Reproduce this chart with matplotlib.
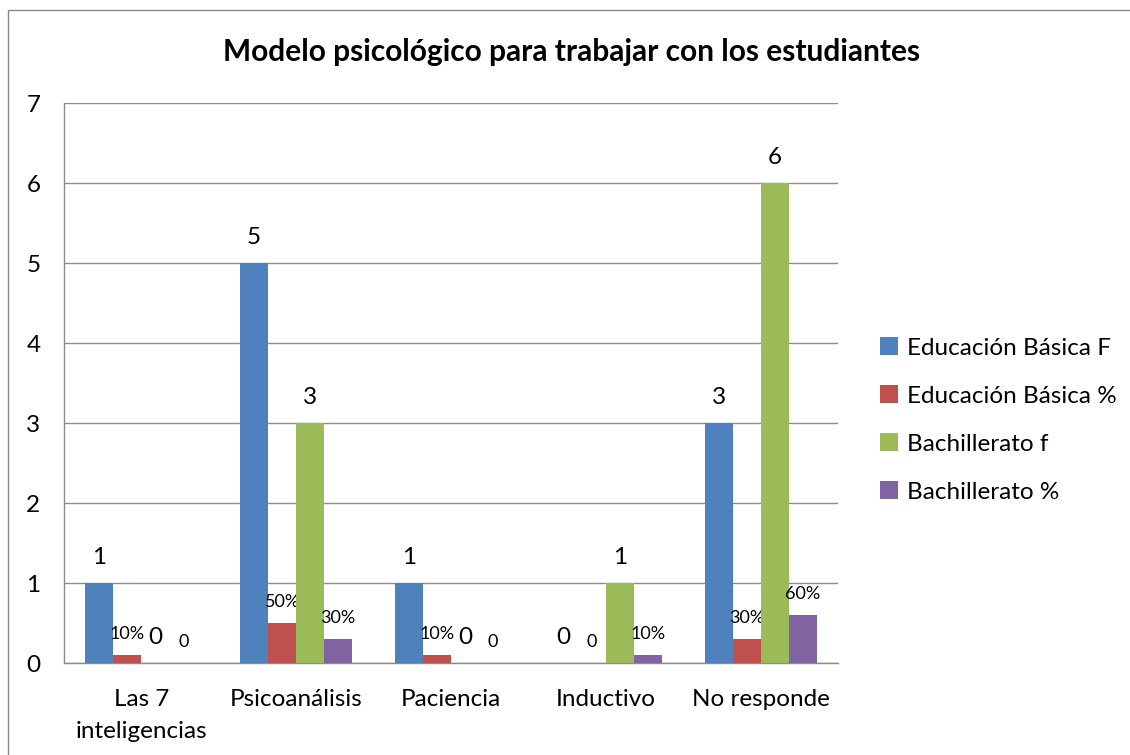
import matplotlib
matplotlib.use("Agg")
import matplotlib.pyplot as plt
import numpy as np
from matplotlib.patches import Rectangle

categories = ["Las 7\ninteligencias", "Psicoanálisis", "Paciencia", "Inductivo", "No responde"]
series_names = ["Educación Básica F", "Educación Básica %", "Bachillerato f", "Bachillerato %"]
eb_f = [1, 5, 1, 0, 3]
eb_pct = [0.1, 0.5, 0.1, 0, 0.3]
bach_f = [0, 3, 0, 1, 6]
bach_pct = [0, 0.3, 0, 0.1, 0.6]
colors = ["#4F81BD", "#C0504D", "#9BBB59", "#8064A2"]
yticks = [0, 1, 2, 3, 4, 5, 6, 7]

plt.rcParams['font.family'] = ['Lato', 'DejaVu Sans']

fig = plt.figure(figsize=(11.3, 7.55), dpi=100)
W, H = 1130, 755
ax = fig.add_axes([64 / W, 1 - 663 / H, (838 - 64) / W, (663 - 103) / H])

# outer chart border
fig.patches.append(Rectangle((8 / W, -0.1), 1.2, 1 - 10 / H + 0.1, transform=fig.transFigure,
                             fill=False, edgecolor="#888888", linewidth=1.0))

x = np.arange(len(categories))
bw = 0.181
series = [eb_f, eb_pct, bach_f, bach_pct]
is_pct = [False, True, False, True]
for i, (vals, col, name, pct) in enumerate(zip(series, colors, series_names, is_pct)):
    pos = x + (i - 1.5) * bw
    ax.bar(pos, vals, width=bw, color=col, label=name, zorder=3)
    for p, v in zip(pos, vals):
        if pct:
            txt = f"{int(round(v * 100))}%" if v > 0 else "0"
            ax.annotate(txt, (p, v), xytext=(0, 9.5), textcoords="offset points",
                        ha="center", va="bottom", fontsize=13)
        else:
            ax.annotate(f"{v}", (p, v), xytext=(0, 10.5), textcoords="offset points",
                        ha="center", va="bottom", fontsize=17.5)

ax.set_xlim(-0.5, len(categories) - 0.5)
ax.set_ylim(0, 7)
ax.set_yticks(yticks)
ax.set_yticklabels([str(t) for t in yticks], fontsize=17.5)
ax.set_xticks(x)
ax.set_xticklabels(categories, fontsize=17.5, linespacing=1.6)
ax.tick_params(axis="both", length=0)
ax.tick_params(axis="y", pad=17)
ax.tick_params(axis="x", pad=19)
ax.yaxis.grid(True, color="#8C8C8C", linewidth=1.0, zorder=0)
for s in ["top", "right"]:
    ax.spines[s].set_visible(False)
for s in ["left", "bottom"]:
    ax.spines[s].set_color("#8C8C8C")
    ax.spines[s].set_linewidth(1.0)

fig.text(572 / W, 1 - 52 / H, "Modelo psicológico para trabajar con los estudiantes",
         ha="center", va="center", fontsize=21.5, fontweight="bold")

handles, labels = ax.get_legend_handles_labels()
fig.legend(handles, labels, loc="center left", bbox_to_anchor=(858 / W, 1 - 420 / H),
           frameon=False, fontsize=17.5, handlelength=0.75, handleheight=0.75,
           handletextpad=0.35, labelspacing=1.1)

fig.savefig("out.png", dpi=100)
